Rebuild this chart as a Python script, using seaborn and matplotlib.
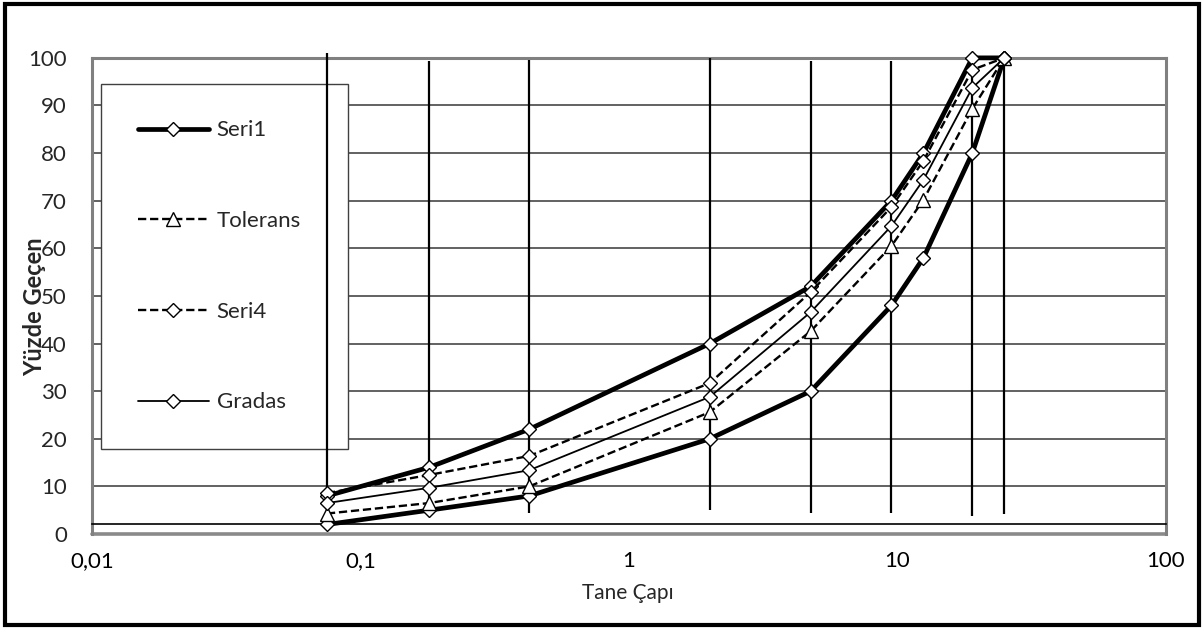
import matplotlib
matplotlib.use("Agg")
import matplotlib.pyplot as plt
import seaborn as sns
from matplotlib.patches import Rectangle

# sieve sizes (mm) and percent passing
sieve = [0.075, 0.18, 0.425, 2, 4.75, 9.5, 12.5, 19, 25]
seri1_upper = [8, 14, 22, 40, 52, 70, 80, 100, 100]
seri1_lower = [2, 5, 8, 20, 30, 48, 58, 80, 100]
tolerans = [4.3, 6.5, 10, 25.6, 42.6, 60.5, 70.2, 89.3, 100]
seri4 = [8.6, 12.4, 16.4, 31.7, 50.8, 68.7, 78.4, 97.5, 100]
gradas = [6.5, 9.7, 13.4, 28.8, 46.6, 64.7, 74.4, 93.7, 100]

# vertical sieve lines (no line at 12.5), bottom / top in % units
vline_x = [0.075, 0.18, 0.425, 2, 4.75, 9.5, 19, 25]
vline_lo = [3, 4.5, 4.5, 5, 4.5, 4.5, 3.8, 4.2]
vline_hi = [101, 99.3, 99.5, 100, 99.3, 99.3, 99.5, 99.7]

xtick_vals = [0.01, 0.1, 1, 10, 100]
xtick_labels = ['0,01', '0,1', '1', '10', '100']
ytick_vals = [0, 10, 20, 30, 40, 50, 60, 70, 80, 90, 100]

sns.set_style('white')
plt.rcParams['font.family'] = ['Lato', 'DejaVu Sans']

fig = plt.figure(figsize=(12.04, 6.29), dpi=100)
ax = fig.add_axes([0.0764, 0.151, 0.892, 0.757])

# Seri1 is one envelope: upper limit going out, lower limit coming back
env_x = sieve + sieve[::-1][1:]
env_y = seri1_upper + seri1_lower[::-1][1:]

common = dict(sort=False, estimator=None, color='black', markerfacecolor='white',
              markeredgecolor='black', markeredgewidth=1.0, clip_on=False, zorder=4)

sns.lineplot(x=env_x, y=env_y, ax=ax, lw=3.4, marker='D', markersize=7.2,
             label='Seri1', **common)
sns.lineplot(x=sieve, y=tolerans, ax=ax, lw=1.7, linestyle=(0, (3.5, 1.6)),
             marker='^', markersize=9.5, label='Tolerans', **common)
sns.lineplot(x=sieve, y=seri4, ax=ax, lw=1.7, linestyle=(0, (3.5, 1.6)),
             marker='D', markersize=7.2, label='Seri4', **common)
sns.lineplot(x=sieve, y=gradas, ax=ax, lw=1.3, marker='D', markersize=7.2,
             label='Gradas', **common)

ax.vlines(vline_x, vline_lo, vline_hi, color='black', lw=1.6, zorder=3, clip_on=False)

ax.set_xscale('log')
ax.set_xlim(0.01, 100)
ax.set_ylim(0, 100)
ax.set_xticks(xtick_vals, labels=xtick_labels)
ax.set_yticks(ytick_vals)

ax.set_axisbelow(True)
ax.yaxis.grid(True, color='#555555', lw=1.3)
ax.xaxis.grid(False)

# frame
for s in ['top', 'left', 'right']:
    ax.spines[s].set_color('#808080')
    ax.spines[s].set_linewidth(2.2)
ax.axhline(0, color='#8a8a8a', lw=2.6, zorder=2, clip_on=False)
ax.spines['bottom'].set_position(('data', 2))
ax.spines['bottom'].set_color('black')
ax.spines['bottom'].set_linewidth(1.2)

ax.tick_params(axis='x', which='both', direction='in', colors='black', labelsize=16, pad=19)
ax.tick_params(axis='x', which='major', length=6, width=1.2)
ax.tick_params(axis='x', which='minor', length=4, width=1.0)
ax.tick_params(axis='y', length=0, labelsize=16, pad=18)

ax.set_xlabel('Tane Çapı', fontsize=15)
ax.xaxis.set_label_coords(0.499, -0.103)
ax.set_ylabel('Yüzde Geçen', fontsize=17, fontweight='bold')
ax.yaxis.set_label_coords(-0.043, 0.477)

leg = ax.legend(loc='upper left', bbox_to_anchor=(0.0084, 0.179, 0.2296, 0.767),
                mode='expand', borderaxespad=0, fontsize=16, frameon=True,
                fancybox=False, framealpha=1, edgecolor='#404040',
                borderpad=1.66, labelspacing=3.18, handlelength=3.2, handletextpad=0.35)
leg.get_frame().set_linewidth(1.0)
leg.set_zorder(2.8)

# outer chart border
fig.add_artist(Rectangle((0.004, 0.006), 0.992, 0.988, transform=fig.transFigure,
                         fill=False, lw=3, edgecolor='black'))

fig.savefig('out.png', dpi=100, facecolor='white')
